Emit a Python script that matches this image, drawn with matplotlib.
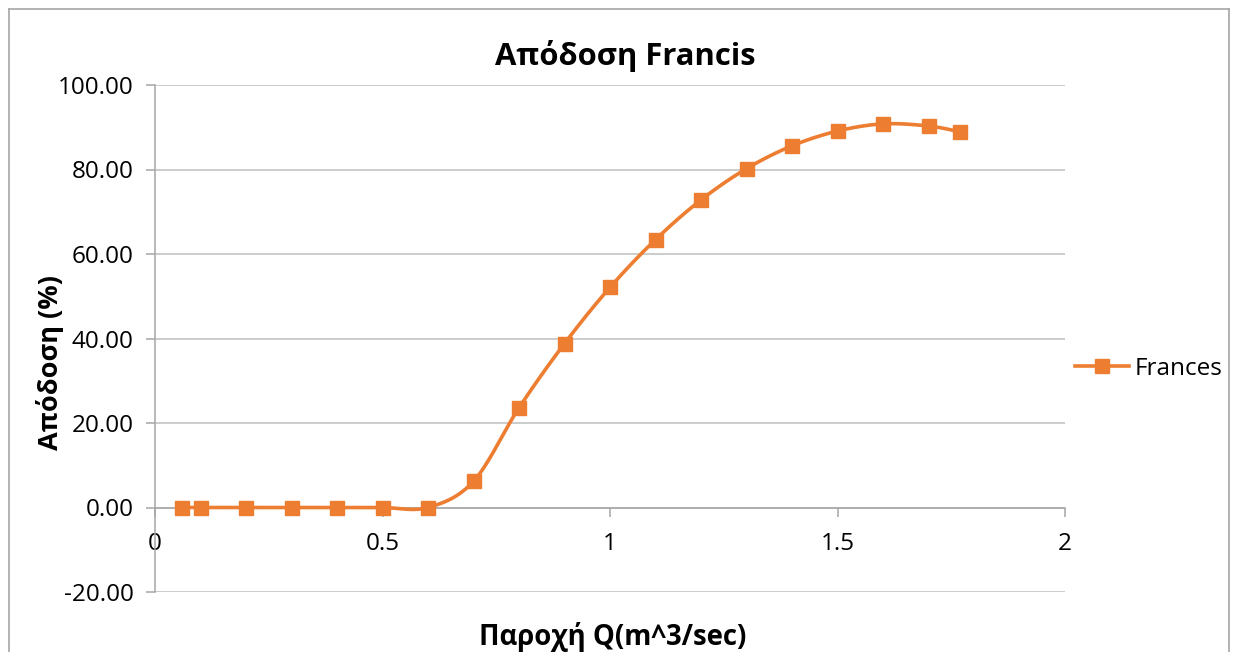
import numpy as np
import matplotlib
matplotlib.use('Agg')
import matplotlib.pyplot as plt
from matplotlib.lines import Line2D

# данные
q = [0.06, 0.1, 0.2, 0.3, 0.4, 0.5, 0.6, 0.7, 0.8, 0.9, 1.0,
     1.1, 1.2, 1.3, 1.4, 1.5, 1.6, 1.7, 1.77]
eff = [0, 0, 0, 0, 0, 0, 0, 6.2, 23.6, 38.8, 52.1,
       63.4, 72.8, 80.2, 85.6, 89.1, 90.8, 90.3, 88.9]
y_ticks = [-20, 0, 20, 40, 60, 80, 100]
x_ticks = [0, 0.5, 1, 1.5, 2]
x_labels = ['0', '0.5', '1', '1.5', '2']

title = 'Απόδοση Francis'
x_title = 'Παροχή Q(m^3/sec)'
y_title = 'Απόδοση (%)'
series_name = 'Frances'

orange = '#ED7D31'
plt.rcParams['font.family'] = ['Open Sans', 'DejaVu Sans']


def smooth(xs, ys, n=30):
    # сглаживание как в Excel (кривые Безье по Катмулл-Рому)
    xs = np.asarray(xs, float)
    ys = np.asarray(ys, float)
    px, py = [], []
    m = len(xs)
    for i in range(m - 1):
        i0 = max(i - 1, 0)
        i3 = min(i + 2, m - 1)
        p0 = np.array([xs[i], ys[i]])
        p3 = np.array([xs[i + 1], ys[i + 1]])
        c1 = p0 + (np.array([xs[i + 1], ys[i + 1]]) - np.array([xs[i0], ys[i0]])) / 6
        c2 = p3 - (np.array([xs[i3], ys[i3]]) - np.array([xs[i], ys[i]])) / 6
        t = np.linspace(0, 1, n)[:, None]
        pts = ((1 - t) ** 3) * p0 + 3 * ((1 - t) ** 2) * t * c1 + 3 * (1 - t) * t ** 2 * c2 + t ** 3 * p3
        px.extend(pts[:, 0])
        py.extend(pts[:, 1])
    return px, py


fig = plt.figure(figsize=(12.39, 6.52), dpi=100)
ax = fig.add_axes([155 / 1239, 1 - 592 / 652, 910 / 1239, 507 / 652])

sx, sy = smooth(q, eff)
ax.plot(sx, sy, color=orange, lw=2.6, solid_capstyle='round', zorder=3)
ax.plot(q, eff, ls='none', marker='s', ms=10.5, color=orange, zorder=4)

ax.set_xlim(0, 2)
ax.set_ylim(-20, 100)
ax.set_xticks(x_ticks)
ax.set_xticklabels(x_labels)
ax.set_yticks(y_ticks)
ax.set_yticklabels(['%.2f' % v for v in y_ticks])

ax.grid(axis='y', color='#bfbfbf', lw=1.1)
ax.set_axisbelow(True)
for s in ['top', 'right']:
    ax.spines[s].set_visible(False)
ax.spines['bottom'].set_position(('data', 0))
ax.spines['bottom'].set_color('#a6a6a6')
ax.spines['left'].set_color('#a6a6a6')
ax.spines['bottom'].set_linewidth(1.1)
ax.spines['left'].set_linewidth(1.1)
ax.tick_params(axis='both', colors='#a6a6a6', labelcolor='black', labelsize=17.5,
               length=6.5, width=1.1, direction='out')
ax.tick_params(axis='x', pad=11)
ax.tick_params(axis='y', pad=9)

fig.text(625 / 1239, 1 - 56 / 652, title, ha='center', va='center',
         fontsize=22.3, fontweight='bold')
fig.text(613 / 1239, 1 - 637 / 652, x_title, ha='center', va='center',
         fontsize=19.8, fontweight='bold')
fig.text(50 / 1239, 1 - 362 / 652, y_title, ha='center', va='center',
         fontsize=19.5, fontweight='bold', rotation=90)

handle = Line2D([], [], color=orange, lw=2.6, marker='s', ms=10.5)
fig.legend([handle], [series_name], loc='center left',
           bbox_to_anchor=(1063 / 1239, 1 - 369 / 652), frameon=False,
           fontsize=17.5, handlelength=2.2, handletextpad=0.25, borderpad=0)

# рамка вокруг диаграммы
for xs_, ys_ in [([9, 1229], [9, 9]), ([9, 9], [9, 660]), ([1229, 1229], [9, 660])]:
    fig.add_artist(Line2D([v / 1239 for v in xs_], [1 - v / 652 for v in ys_],
                          color='#a6a6a6', lw=1.2))

fig.savefig('out.png', dpi=100)
